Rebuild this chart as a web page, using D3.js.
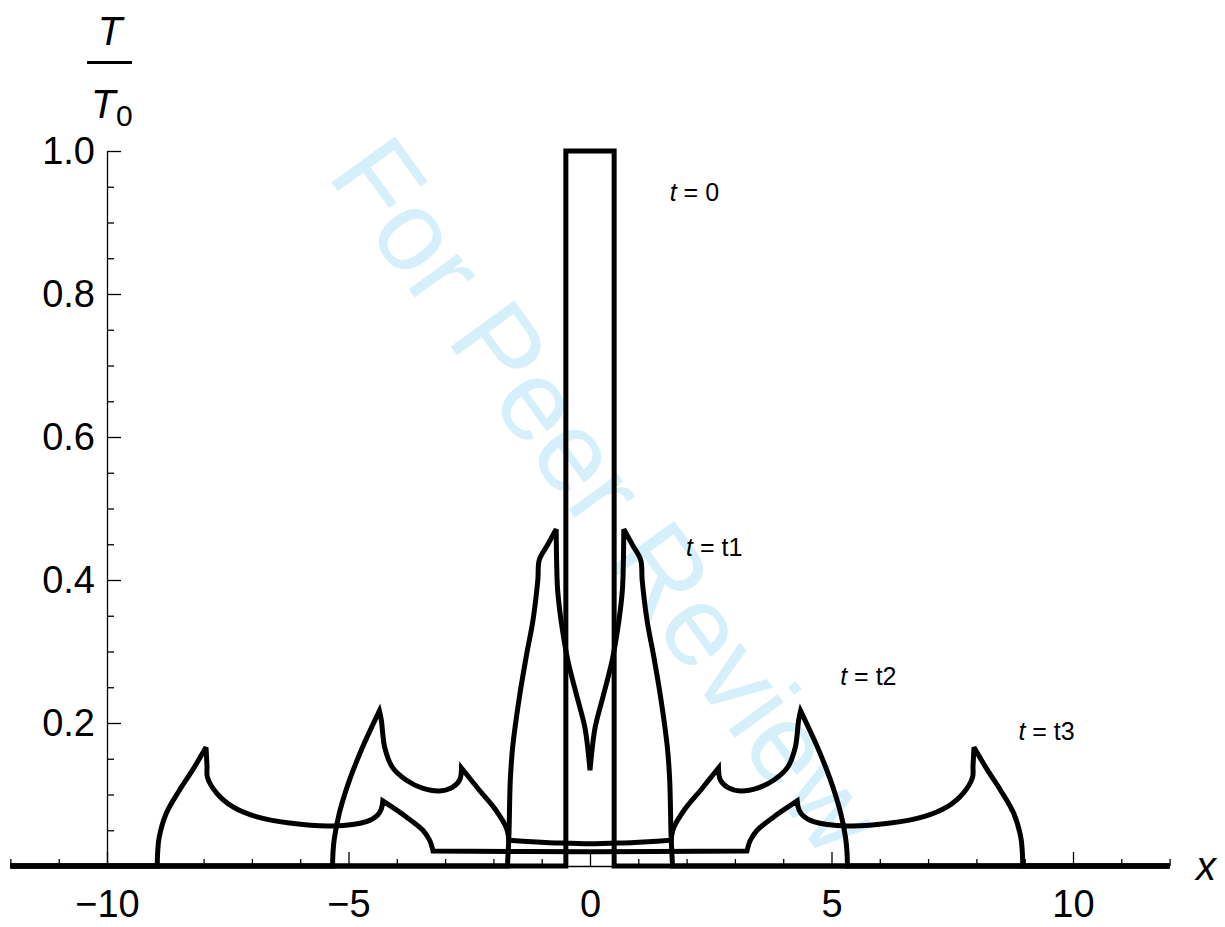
<!DOCTYPE html>
<html>
<head>
<meta charset="utf-8">
<script src="https://cdn.jsdelivr.net/npm/d3@7"></script>
<style>
  body { margin: 0; background: #fff; }
  svg { display: block; }
  text { font-family: "Liberation Sans", Arial, sans-serif; }
</style>
</head>
<body>
<svg id="chart" width="1225" height="927"></svg>
<script>
// Profiles, as [x, T/T0] pairs in drawing order
var profileT0 = [[-12, 0], [-0.5, 0], [-0.5, 1], [0.5, 1], [0.5, 0], [12, 0]];

var profileT1 = [
    [-12, 0], [-1.71, 0], [-1.68, 0.04], [-1.65, 0.12], [-1.60, 0.167], [-1.46, 0.237],
    [-1.32, 0.293], [-1.18, 0.344], [-1.08, 0.40], [-1.05, 0.428], [-0.88, 0.449], [-0.70, 0.471],
    [-0.69, 0.423], [-0.67, 0.386], [-0.60, 0.344], [-0.46, 0.288], [-0.29, 0.242],
    [-0.11, 0.195], [-0.05, 0.167], [0, 0.134],
    [0.05, 0.167], [0.11, 0.195], [0.29, 0.242], [0.46, 0.288], [0.60, 0.344],
    [0.67, 0.386], [0.69, 0.423], [0.70, 0.471], [0.88, 0.449], [1.05, 0.428], [1.08, 0.40],
    [1.18, 0.344], [1.32, 0.293], [1.46, 0.237], [1.60, 0.167], [1.65, 0.12],
    [1.68, 0.04], [1.71, 0], [12, 0]
];

var profileT2 = [
    [-12, 0], [-5.33, 0], [-5.32, 0.02], [-5.29, 0.04], [-5.19, 0.074], [-4.98, 0.12],
    [-4.71, 0.166], [-4.36, 0.217], [-4.32, 0.204], [-4.25, 0.166], [-4.09, 0.138],
    [-3.80, 0.120], [-3.47, 0.109], [-3.12, 0.105], [-2.85, 0.110], [-2.70, 0.120],
    [-2.66, 0.137], [-2.29, 0.106], [-1.97, 0.080], [-1.73, 0.053], [-1.68, 0.036],
    [-1.2, 0.034], [-0.6, 0.032], [0, 0.031], [0.6, 0.032], [1.2, 0.034],
    [1.68, 0.036], [1.73, 0.053], [1.97, 0.080], [2.29, 0.106], [2.66, 0.137],
    [2.70, 0.120], [2.85, 0.110], [3.12, 0.105], [3.47, 0.109], [3.80, 0.120],
    [4.09, 0.138], [4.25, 0.166], [4.32, 0.204], [4.36, 0.217], [4.71, 0.166],
    [4.98, 0.12], [5.19, 0.074], [5.29, 0.04], [5.32, 0.02], [5.33, 0], [12, 0]
];

var profileT3 = [
    [-12, 0], [-8.96, 0], [-8.95, 0.02], [-8.92, 0.04], [-8.77, 0.074], [-8.50, 0.106],
    [-8.23, 0.134], [-7.95, 0.166], [-7.93, 0.140], [-7.92, 0.124], [-7.73, 0.102],
    [-7.40, 0.083], [-6.91, 0.069], [-6.22, 0.060], [-5.33, 0.056], [-4.63, 0.062],
    [-4.40, 0.071], [-4.32, 0.080], [-4.29, 0.091], [-3.81, 0.069], [-3.46, 0.050],
    [-3.32, 0.036], [-3.25, 0.021], [0, 0.020],
    [3.25, 0.021], [3.32, 0.036], [3.46, 0.050], [3.81, 0.069], [4.29, 0.091],
    [4.32, 0.080], [4.40, 0.071], [4.63, 0.062], [5.33, 0.056], [6.22, 0.060],
    [6.91, 0.069], [7.40, 0.083], [7.73, 0.102], [7.92, 0.124], [7.93, 0.140],
    [7.95, 0.166], [8.23, 0.134], [8.50, 0.106], [8.77, 0.074], [8.92, 0.04],
    [8.95, 0.02], [8.96, 0], [12, 0]
];

var xMajorTicks = [-10, -5, 0, 5, 10];
var xMinorTicks = [-12, -11, -9, -8, -7, -6, -4, -3, -2, -1, 1, 2, 3, 4, 6, 7, 8, 9, 11, 12];
var yMajorTicks = [0.2, 0.4, 0.6, 0.8, 1.0];
var yMinorTicks = [0.05, 0.1, 0.15, 0.25, 0.3, 0.35, 0.45, 0.5, 0.55, 0.65, 0.7, 0.75, 0.85, 0.9, 0.95];

var curveLabels = [
    {sub: "0", x: 1.65, y: 0.93},
    {sub: "t1", x: 1.99, y: 0.434},
    {sub: "t2", x: 5.18, y: 0.253},
    {sub: "t3", x: 8.87, y: 0.176}
];

var svg = d3.select("#chart");

var x = d3.scaleLinear().domain([-12, 12]).range([10.4, 1169.6]);
var y = d3.scaleLinear().domain([0, 1]).range([866, 151]);

// Watermark, behind everything
svg.append("text")
    .attr("transform", "translate(326,175) rotate(54)")
    .style("font-size", "114px")
    .style("fill", "#d5effb")
    .text("For Peer Review");

// x axis: major ticks with labels, minor ticks without
svg.append("g")
    .attr("transform", "translate(0," + y(0) + ")")
    .call(d3.axisBottom(x)
        .tickValues(xMajorTicks)
        .tickSizeInner(-14)
        .tickSizeOuter(0)
        .tickPadding(24)
        .tickFormat(d3.format("d")));
svg.append("g")
    .attr("transform", "translate(0," + y(0) + ")")
    .call(d3.axisBottom(x)
        .tickValues(xMinorTicks)
        .tickSizeInner(-7)
        .tickSizeOuter(0)
        .tickFormat(""))
    .select(".domain").remove();

// y axis sits at x = -10
svg.append("g")
    .attr("transform", "translate(" + x(-10) + ",0)")
    .call(d3.axisLeft(y)
        .tickValues(yMajorTicks)
        .tickSizeInner(-14)
        .tickSizeOuter(0)
        .tickPadding(12)
        .tickFormat(d3.format(".1f")));
svg.append("g")
    .attr("transform", "translate(" + x(-10) + ",0)")
    .call(d3.axisLeft(y)
        .tickValues(yMinorTicks)
        .tickSizeInner(-7)
        .tickSizeOuter(0)
        .tickFormat(""))
    .select(".domain").remove();

svg.selectAll(".tick line, .domain")
    .attr("stroke", "#000")
    .attr("stroke-width", 1.3);
svg.selectAll(".tick text")
    .style("font-size", "38px")
    .style("font-family", "'Liberation Sans', Arial, sans-serif")
    .attr("fill", "#000");

// Curves: smooth between points, but keep the sharp corners (cusps, steps)
var smooth = d3.line().curve(d3.curveCatmullRom.alpha(0.5));

function turnAngle(a, b, c) {
    var a1 = Math.atan2(b[1] - a[1], b[0] - a[0]);
    var a2 = Math.atan2(c[1] - b[1], c[0] - b[0]);
    var d = Math.abs(a2 - a1) * 180 / Math.PI;
    return d > 180 ? 360 - d : d;
}

function profilePath(data) {
    var pts = data.map(function (d) { return [x(d[0]), y(d[1])]; });
    var pieces = [], cur = [pts[0]];
    for (var i = 1; i < pts.length; i++) {
        cur.push(pts[i]);
        if (i < pts.length - 1 && turnAngle(pts[i - 1], pts[i], pts[i + 1]) > 45) {
            pieces.push(cur);
            cur = [pts[i]];
        }
    }
    pieces.push(cur);
    return pieces.map(function (p, k) {
        var s = smooth(p);
        return k === 0 ? s : s.replace(/^M[^A-Z]*/, "");
    }).join("");
}

svg.append("g")
    .selectAll("path")
    .data([profileT0, profileT1, profileT2, profileT3])
    .join("path")
    .attr("d", profilePath)
    .attr("fill", "none")
    .attr("stroke", "#000")
    .attr("stroke-width", 5)
    .attr("stroke-linejoin", "miter")
    .attr("stroke-miterlimit", 3);

// Curve labels  t = ...
var lbl = svg.append("g")
    .selectAll("text")
    .data(curveLabels)
    .join("text")
    .attr("x", function (d) { return x(d.x); })
    .attr("y", function (d) { return y(d.y); })
    .style("font-size", "25px");
lbl.append("tspan").style("font-style", "italic").text("t");
lbl.append("tspan").text(function (d) { return " = " + d.sub; });

// Axis titles
var title = svg.append("g").style("font-size", "40px");
title.append("text")
    .attr("x", 110).attr("y", 45)
    .attr("text-anchor", "middle")
    .style("font-style", "italic")
    .text("T");
title.append("line")
    .attr("x1", 87).attr("x2", 132)
    .attr("y1", 62.5).attr("y2", 62.5)
    .attr("stroke", "#000")
    .attr("stroke-width", 3);
title.append("text")
    .attr("x", 91).attr("y", 118)
    .style("font-style", "italic")
    .text("T");
title.append("text")
    .attr("x", 116).attr("y", 126)
    .style("font-size", "30px")
    .text("0");

title.append("text")
    .attr("x", 1196).attr("y", 880)
    .style("font-style", "italic")
    .text("x");
</script>
</body>
</html>
